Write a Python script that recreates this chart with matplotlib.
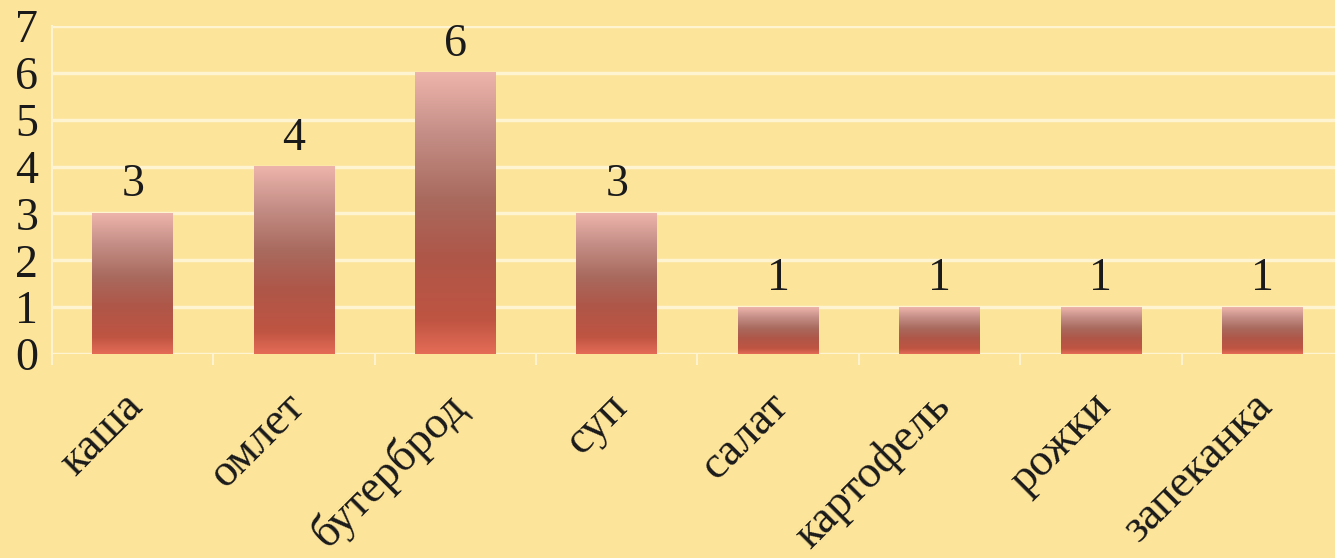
import numpy as np
import matplotlib.pyplot as plt
import matplotlib.transforms as mtransforms
from matplotlib.colors import LinearSegmentedColormap

# ---------------------------------------------------------------
# данные
# ---------------------------------------------------------------
categories = ["каша", "омлет", "бутерброд", "суп", "салат",
              "картофель", "рожки", "запеканка"]
values = [3, 4, 6, 3, 1, 1, 1, 1]
y_ticks = [0, 1, 2, 3, 4, 5, 6, 7]

BG = "#FDE49B"
plt.rcParams["font.family"] = ["Liberation Serif", "DejaVu Serif"]

# градиент столбца: снизу (0) -> сверху (1)
grad = LinearSegmentedColormap.from_list("bar_grad", [
    (0.00, "#E46C56"),
    (0.12, "#BF5442"),
    (0.35, "#AE5749"),
    (0.55, "#A96A5E"),
    (0.78, "#C48E86"),
    (1.00, "#EDB4AB"),
])

fig = plt.figure(figsize=(13.35, 5.58), dpi=100)
fig.patch.set_facecolor(BG)
ax = fig.add_axes([52 / 1335, 204 / 558, 1291 / 1335, 328 / 558])
ax.set_facecolor(BG)

x = np.arange(len(categories))
bars = ax.bar(x, values, width=0.5, color="none", zorder=3)

g = np.linspace(0, 1, 256).reshape(-1, 1)
for b in bars:
    x0, y0 = b.get_x(), b.get_y()
    ax.imshow(g, cmap=grad, origin="lower", aspect="auto",
              extent=[x0, x0 + b.get_width(), y0, y0 + b.get_height()],
              zorder=3, interpolation="bilinear")

for xi, v in zip(x, values):
    ax.annotate(str(v), (xi, v), xytext=(0, 5), textcoords="offset points",
                ha="center", va="bottom", fontsize=33, color="#1a1a1a")

ax.set_xlim(-0.5, 7.5)
ax.set_ylim(0, 7)
ax.set_yticks(y_ticks)
ax.tick_params(axis="y", length=0, pad=10, labelsize=33, labelcolor="#1a1a1a")

ax.set_xticks(x)
ax.set_xticklabels(categories, rotation=45, ha="right", va="center",
                   rotation_mode="anchor", fontsize=33, color="#1a1a1a")
ax.tick_params(axis="x", which="major", length=0, pad=0)
ax.set_xticks(np.arange(-0.5, 8, 1.0), minor=True)
ax.tick_params(axis="x", which="minor", length=8, width=1.5,
               color="#FFF3CF", direction="out")

offset = mtransforms.ScaledTranslation(4 / 100, -46 / 100, fig.dpi_scale_trans)
for lab in ax.get_xticklabels():
    lab.set_transform(lab.get_transform() + offset)

ax.grid(axis="y", color="#FFF4D2", linewidth=2.5, zorder=1)
ax.set_axisbelow(True)
for side in ["top", "right", "bottom"]:
    ax.spines[side].set_visible(False)
ax.spines["left"].set_color("#FFF4D2")
ax.spines["left"].set_linewidth(1.5)

fig.savefig("out.png", dpi=100, facecolor=BG)
